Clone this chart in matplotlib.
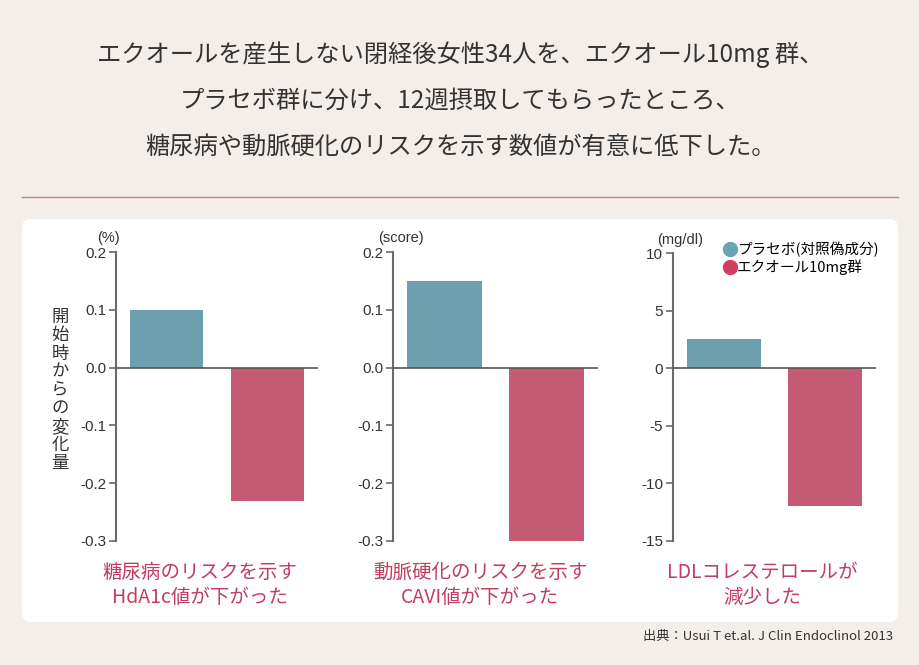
import matplotlib
matplotlib.use("Agg")
import matplotlib.pyplot as plt
from matplotlib.patches import FancyBboxPatch
from matplotlib.lines import Line2D

plt.rcParams['font.family'] = ['Noto Sans CJK JP', 'DejaVu Sans']
plt.rcParams['axes.unicode_minus'] = False

# data
groups = ['プラセボ(対照偽成分)', 'エクオール10mg群']
hba1c = [0.10, -0.23]
cavi = [0.15, -0.30]
ldl = [2.5, -12.0]
units = ['(%)', '(score)', '(mg/dl)']
captions = ['糖尿病のリスクを示す\nHdA1c値が下がった',
            '動脈硬化のリスクを示す\nCAVI値が下がった',
            'LDLコレステロールが\n減少した']
yticks_small = [0.2, 0.1, 0.0, -0.1, -0.2, -0.3]
yticks_ldl = [10, 5, 0, -5, -10, -15]
title_lines = ['エクオールを産生しない閉経後女性34人を、エクオール10mg 群、',
               'プラセボ群に分け、12週摂取してもらったところ、',
               '糖尿病や動脈硬化のリスクを示す数値が有意に低下した。']
source = '出典：Usui T et.al. J Clin Endoclinol 2013'
ylabel = '開始時からの変化量'

bg = '#f4eeea'
c_blue = '#6d9fae'
c_red = '#c45a74'
leg_blue = '#6aa3b4'
leg_red = '#d23d5e'
cap_col = '#c23d60'
txt = '#333333'
axcol = '#6a6a6a'
latin = ['Liberation Sans', 'Noto Sans CJK JP']

W, H = 920, 665
fig = plt.figure(figsize=(W / 100, H / 100), dpi=100, facecolor=bg)

# background layer in pixel coordinates
bgax = fig.add_axes([0, 0, 1, 1], zorder=-1)
bgax.set_xlim(0, W)
bgax.set_ylim(H, 0)
bgax.axis('off')
panel = FancyBboxPatch((22, 219), 876, 403, boxstyle='round,pad=0,rounding_size=9',
                       facecolor='white', edgecolor='none')
bgax.add_patch(panel)
bgax.plot([22, 898], [197, 197], color='#c97f92', lw=1)

for i, line in enumerate(title_lines):
    bgax.text(460, 55 + i * 46, line, ha='center', va='center', fontsize=17.5, color=txt)

for i, ch in enumerate(ylabel):
    bgax.text(60, 317 + i * 18.3, ch, ha='center', va='center', fontsize=12.5, color=txt)

bgax.text(893, 636, source, ha='right', va='center', fontsize=9.5, color=txt)


def px_axes(left, right, top, bottom):
    return fig.add_axes([left / W, 1 - bottom / H, (right - left) / W, (bottom - top) / H])


def draw(ax, vals, ylim, ticks, fmt):
    ax.bar([0, 1], vals, width=0.73, color=[c_blue, c_red], zorder=2)
    ax.axhline(0, color='#555555', lw=1.2, zorder=3)
    ax.set_xlim(-0.5, 1.5)
    ax.set_ylim(*ylim)
    ax.set_yticks(ticks)
    ax.set_yticklabels([fmt.format(t) for t in ticks], fontsize=11, color=txt, family=latin)
    ax.set_xticks([])
    for s in ['top', 'right', 'bottom']:
        ax.spines[s].set_visible(False)
    ax.spines['left'].set_color(axcol)
    ax.spines['left'].set_linewidth(1.5)
    ax.tick_params(axis='y', direction='out', length=5, width=1.2, color=axcol, pad=2)
    ax.patch.set_alpha(0)


ax1 = px_axes(116, 318, 252, 541)
draw(ax1, hba1c, (-0.3, 0.2), yticks_small, '{:.1f}')
ax2 = px_axes(393, 598, 252, 541)
draw(ax2, cavi, (-0.3, 0.2), yticks_small, '{:.1f}')
ax3 = px_axes(673, 876, 253, 541)
draw(ax3, ldl, (-15, 10), yticks_ldl, '{:d}')

unit_pos = [(108, 238), (401, 238), (680, 240)]
for (x, y), u in zip(unit_pos, units):
    bgax.text(x, y, u, ha='center', va='center', fontsize=10.5, color=txt, family=latin)

cap_x = [200, 480, 762]
for x, c in zip(cap_x, captions):
    bgax.text(x, 585, c, ha='center', va='center', fontsize=14, color=cap_col,
              linespacing=1.3)

handles = [Line2D([], [], marker='o', ls='none', markersize=10, color=leg_blue),
           Line2D([], [], marker='o', ls='none', markersize=10, color=leg_red)]
ax3.legend(handles, groups, loc='upper left', bbox_to_anchor=(0.25, 1.04), frameon=False,
           fontsize=10.5, handlelength=0.8, handletextpad=0.1, borderpad=0,
           labelspacing=0.2, borderaxespad=0)

fig.savefig('out.png', dpi=100, facecolor=bg)
